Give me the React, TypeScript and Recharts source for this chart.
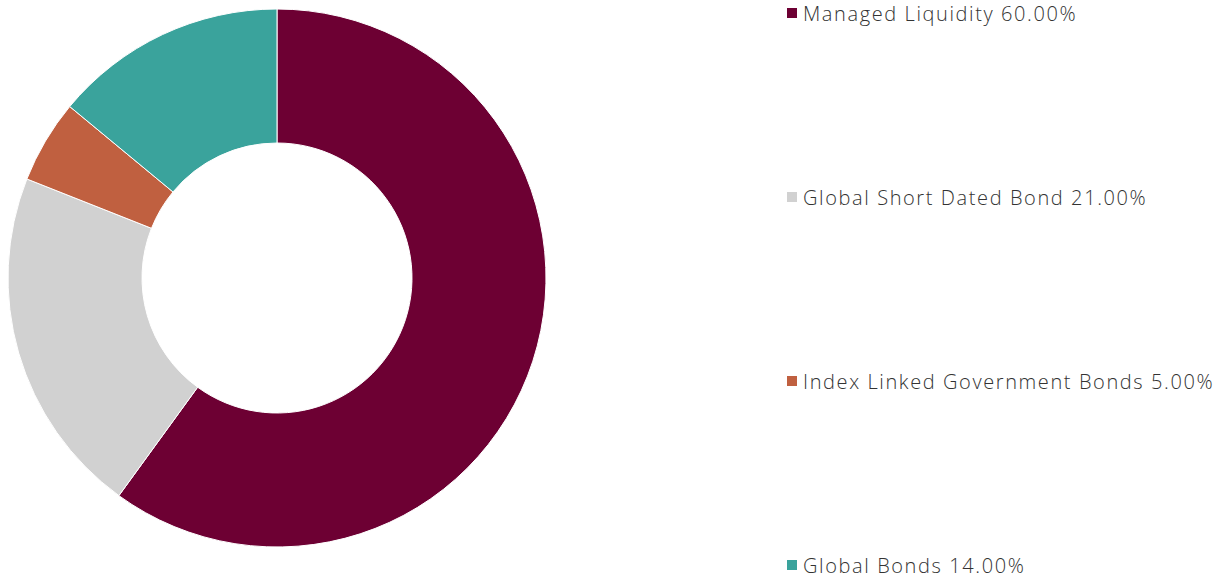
import { PieChart, Pie, Cell } from "recharts";

const names = ["Managed Liquidity", "Global Short Dated Bond", "Index Linked Government Bonds", "Global Bonds"];
const weights = [60, 21, 5, 14];
const colors = ["#6d0033", "#d1d1d1", "#c06040", "#3aa39c"];

const data = names.map((name, i) => ({ name, value: weights[i] }));

function LegendList() {
  return (
    <div style={{ position: "absolute", left: 787, top: 0, width: 441, height: 581 }}>
      {data.map((d, i) => (
        <div
          key={d.name}
          style={{
            position: "absolute",
            left: 0,
            top: 14 + i * 184 - 13,
            height: 24,
            display: "flex",
            alignItems: "center",
            fontFamily: "'Open Sans', sans-serif",
            fontWeight: 300,
            fontSize: 20,
            letterSpacing: 1.6,
            color: "#333",
            whiteSpace: "nowrap",
          }}
        >
          <span style={{ display: "inline-block", width: 10, height: 10, background: colors[i], marginRight: 6 }} />
          {d.name} {d.value.toFixed(2)}%
        </div>
      ))}
    </div>
  );
}

export default function App() {
  return (
    <div style={{ position: "relative", width: 1228, height: 581 }}>
      <style>{"body{margin:0}"}</style>
      <PieChart width={1228} height={581} margin={{ top: 0, right: 0, bottom: 0, left: 0 }}>
        <Pie
          data={data}
          dataKey="value"
          cx={277}
          cy={278}
          innerRadius={135}
          outerRadius={269}
          startAngle={90}
          endAngle={-270}
          stroke="#fff"
          strokeWidth={1}
          isAnimationActive={false}
        >
          {data.map((d, i) => (
            <Cell key={d.name} fill={colors[i]} />
          ))}
        </Pie>
      </PieChart>
      <LegendList />
    </div>
  );
}
